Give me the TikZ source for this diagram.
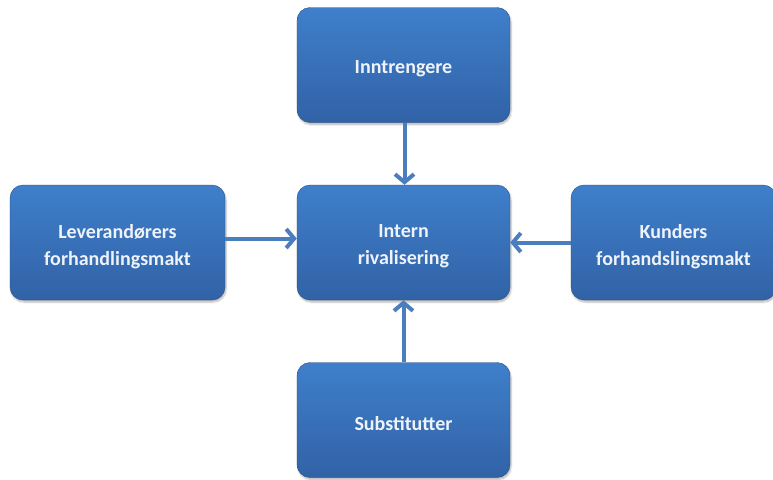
\documentclass[tikz,border=0pt]{standalone}
\usepackage{fontspec}
\setmainfont{Carlito}
\usetikzlibrary{arrows.meta,shadows.blur}
\definecolor{boxtop}{HTML}{3F7FCB}
\definecolor{boxbot}{HTML}{3162A6}
\definecolor{arr}{HTML}{4A7EBF}
\definecolor{txt}{HTML}{EEF3FA}
\tikzset{
  box/.style={rounded corners=13pt, top color=boxtop, bottom color=boxbot, draw=boxbot!80!black, line width=0.4pt,
    minimum width=213pt, minimum height=115pt, inner sep=0pt,
    blur shadow={shadow xshift=1pt, shadow yshift=-2pt, shadow blur steps=5, shadow opacity=30}},
  boxtext/.style={align=center, text=txt, inner sep=0pt, yshift=-4pt,
    font=\fontsize{20}{27}\selectfont\bfseries}
}
\tikzset{
  conn/.style={draw=arr, line width=4pt, -{Straight Barb[length=8pt,width=19pt,line width=4pt]}}
}
\begin{document}
\begin{tikzpicture}[x=1pt,y=-1pt]
\useasboundingbox (0,0) rectangle (773,479);
\node[box, label={[boxtext]center:Inntrengere}] (top) at (403.5,65) {};
\node[box, label={[boxtext]center:Intern\\rivalisering}] (mid) at (403.5,242.5) {};
\node[box, minimum width=215pt, label={[boxtext]center:Leverandørers\\forhandlingsmakt}] (left) at (117.5,242.5) {};
\node[box, minimum width=205pt, label={[boxtext]center:Kunders\\forhandslingsmakt}] (right) at (673.5,242.5) {};
\node[box, label={[boxtext]center:Substitutter}] (bot) at (403.5,420) {};
\draw[conn] (top.south) ++(1,0) -- ([xshift=1pt]mid.north);
\draw[conn] (bot.north) -- (mid.south);
\draw[conn] ([yshift=4pt]left.east) -- ([yshift=4pt]mid.west);
\draw[conn] (right.west) -- (mid.east);
\end{tikzpicture}
\end{document}
